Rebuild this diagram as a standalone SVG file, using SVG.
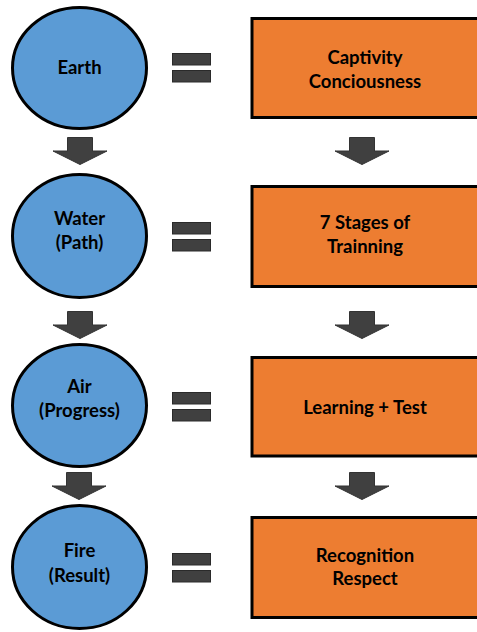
<svg xmlns="http://www.w3.org/2000/svg" width="477" height="632" viewBox="0 0 477 632">
<style>
.c{fill:#5B9BD5;stroke:#000;stroke-width:3}
.r{fill:#ED7D31;stroke:#000;stroke-width:3}
.eq{fill:#404040;stroke:#2a2a2a;stroke-width:1}
.ar{fill:#404040;stroke:#333;stroke-width:1}
text{font-family:Lato,"Open Sans","Liberation Sans",sans-serif;font-weight:700;font-size:18.5px;fill:#000;text-anchor:middle}
</style>
<defs>
<path id="arrow" d="M-12.5,0 H12.5 V13.5 H27 L0,27 L-27,13.5 H-12.5 Z"/>
<g id="eq"><rect class="eq" x="172.5" y="0.5" width="38" height="11.5"/><rect class="eq" x="172.5" y="17.5" width="38" height="11.5"/></g>
</defs>
<g id="connectors">
<use href="#arrow" class="ar" x="80" y="137.5"/>
<use href="#arrow" class="ar" x="80" y="311.5"/>
<use href="#arrow" class="ar" x="79" y="472.5"/>
<use href="#arrow" class="ar" x="362" y="137.5"/>
<use href="#arrow" class="ar" x="362" y="311.5"/>
<use href="#arrow" class="ar" x="362" y="472.5"/>
<use href="#eq" y="53"/>
<use href="#eq" y="222"/>
<use href="#eq" y="392"/>
<use href="#eq" y="553"/>
</g>
<g id="earth"><ellipse class="c" cx="79.5" cy="68" rx="67" ry="60.5"/><text x="79.5" y="74">Earth</text></g>
<g id="water"><ellipse class="c" cx="79.5" cy="236" rx="67" ry="61.5"/><text x="79.5" y="225">Water</text><text x="79.5" y="249">(Path)</text></g>
<g id="air"><ellipse class="c" cx="79.5" cy="405.5" rx="67" ry="61"/><text x="79.5" y="393">Air</text><text x="79.5" y="417">(Progress)</text></g>
<g id="fire"><ellipse class="c" cx="79.5" cy="567" rx="67" ry="61.5"/><text x="79.5" y="557">Fire</text><text x="79.5" y="582">(Result)</text></g>
<g id="captivity"><rect class="r" x="252" y="18.5" width="230" height="99"/><text x="365" y="64">Captivity</text><text x="365" y="88">Conciousness</text></g>
<g id="stages"><rect class="r" x="252" y="186.5" width="230" height="100"/><text x="365" y="229">7 Stages of</text><text x="365" y="253">Trainning</text></g>
<g id="learning"><rect class="r" x="252" y="357.5" width="230" height="98.5"/><text x="365" y="414">Learning + Test</text></g>
<g id="recognition"><rect class="r" x="252" y="517.5" width="230" height="100"/><text x="365" y="562">Recognition</text><text x="365" y="585">Respect</text></g>
</svg>
